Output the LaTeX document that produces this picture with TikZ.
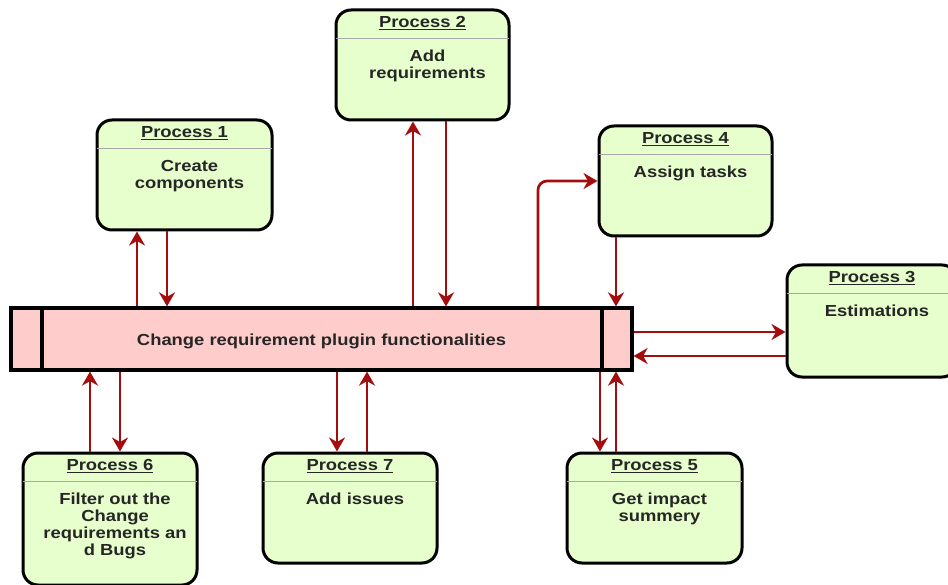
\documentclass[tikz,border=0pt]{standalone}
\usepackage{fontspec}
\setmainfont{Liberation Sans}[FakeStretch=1.15]
\usetikzlibrary{arrows.meta,calc}

\definecolor{procfill}{HTML}{E6FFCC}
\definecolor{barfill}{HTML}{FFCCCC}
\definecolor{flowred}{HTML}{A30D0D}
\definecolor{inktext}{HTML}{262626}
\definecolor{divgray}{HTML}{A8A8A8}

% underlined heading with a slightly heavier rule
\newcommand\headline[1]{\setbox0\hbox{#1}\rlap{\rule[-2.2pt]{\wd0}{1.1pt}}\box0}

\tikzset{
  proc/.style={draw=black, line width=3pt, rounded corners=15pt, fill=procfill,
    inner sep=0pt, minimum width=174pt, minimum height=110pt},
  bar/.style={draw=black, line width=3.2pt, fill=barfill, inner sep=0pt},
  headtext/.style={anchor=base, inner sep=0pt, text=inktext,
    font=\fontsize{16pt}{17pt}\selectfont\bfseries},
  bodytext/.style={anchor=north, inner sep=0pt, text=inktext, align=center,
    font=\fontsize{16pt}{17pt}\selectfont\bfseries},
  divider/.style={draw=divgray, line width=1.4pt},
  flow/.style={draw=flowred, line width=2.7pt,
    -{Stealth[length=14pt,width=16pt,inset=4.5pt]}},
}

\begin{document}
\begin{tikzpicture}[x=1pt,y=-1pt]
\useasboundingbox (0,0) rectangle (948,585);

% central process bar
\node[bar, minimum width=621pt, minimum height=62pt] (bar) at (321.5,339) {};
\coordinate (bl) at (42,0);
\coordinate (br) at (602,0);
\draw[line width=3.2pt] (bar.north -| bl) -- (bar.south -| bl);
\draw[line width=3.2pt] (bar.north -| br) -- (bar.south -| br);
\node[headtext] (bartext) at (321.5,345) {Change requirement plugin functionalities};

% process boxes
\node[proc, minimum width=175pt] (p1) at (184.5,175) {};
\node[proc, minimum width=173pt] (p2) at (422.5,65) {};
\node[proc, minimum width=173pt] (p4) at (685.5,181) {};
\node[proc, minimum width=170pt, minimum height=112pt] (p3) at (872,321) {};
\node[proc, minimum width=174pt, minimum height=132pt] (p6) at (110,519) {};
\node[proc, minimum width=174pt] (p7) at (350,508) {};
\node[proc, minimum width=175pt] (p5) at (654.5,508) {};

% headings, dividers and descriptions
\foreach \p/\n/\body in {p1/1/{Create\\components},
                         p2/2/{Add\\requirements},
                         p4/4/{Assign tasks},
                         p3/3/{Estimations},
                         p6/6/{Filter out the\\Change\\requirements an\\d Bugs},
                         p7/7/{Add issues},
                         p5/5/{Get impact\\summery}} {
  \draw[divider] ([xshift=1.5pt,yshift=-30pt]\p.north west) -- ([xshift=-1.5pt,yshift=-30pt]\p.north east);
  \node[headtext] (\p-head) at ([yshift=-19pt]\p.north) {\headline{Process \n}};
  \node[bodytext] (\p-body) at ([xshift=5pt,yshift=-40pt]\p.north) {\rule{0pt}{13pt}\body};
}

% data flows
\coordinate (x137) at (137,0);  \coordinate (x167) at (167,0);
\coordinate (x413) at (413,0);  \coordinate (x446) at (446,0);
\coordinate (x538) at (538,0);  \coordinate (x616) at (616,0);
\coordinate (y332) at (0,332);  \coordinate (y356) at (0,356);
\coordinate (x90) at (90,0);    \coordinate (x120) at (120,0);
\coordinate (x337) at (337,0);  \coordinate (x367) at (367,0);
\coordinate (x600) at (600,0);

\draw[flow] (bar.north -| x137) -- (p1.south -| x137);
\draw[flow] (p1.south -| x167) -- (bar.north -| x167);

\draw[flow] (bar.north -| x413) -- (p2.south -| x413);
\draw[flow] (p2.south -| x446) -- (bar.north -| x446);

\draw[flow, rounded corners=9pt] (bar.north -| x538) |- (p4.west);
\draw[flow] (p4.south -| x616) -- (bar.north -| x616);

\draw[flow] (bar.east |- y332) -- (p3.west |- y332);
\draw[flow] (p3.west |- y356) -- (bar.east |- y356);

\draw[flow] (p6.north -| x90) -- (bar.south -| x90);
\draw[flow] (bar.south -| x120) -- (p6.north -| x120);

\draw[flow] (bar.south -| x337) -- (p7.north -| x337);
\draw[flow] (p7.north -| x367) -- (bar.south -| x367);

\draw[flow] (bar.south -| x600) -- (p5.north -| x600);
\draw[flow] (p5.north -| x616) -- (bar.south -| x616);
\end{tikzpicture}
\end{document}
